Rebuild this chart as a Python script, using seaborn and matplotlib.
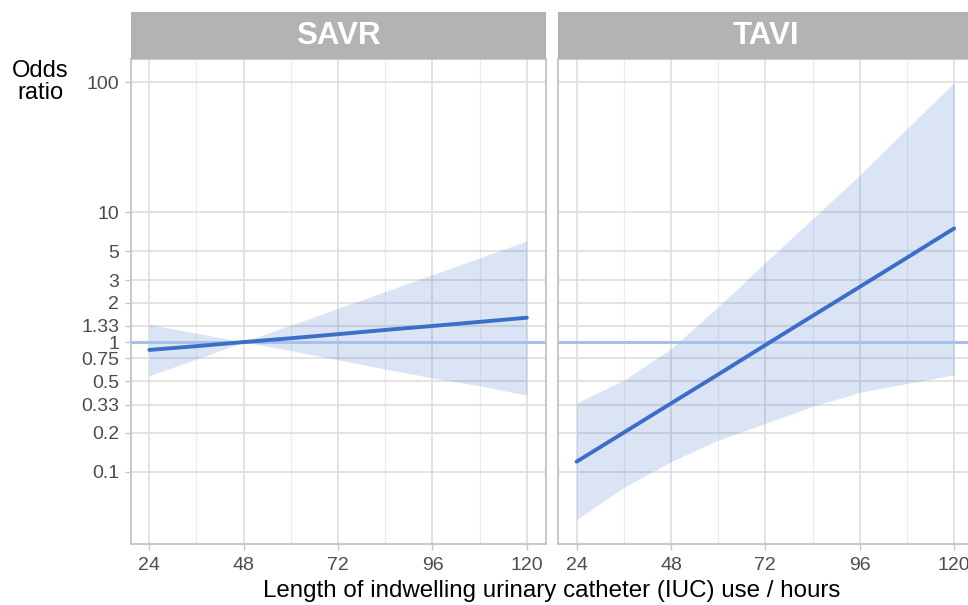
import numpy as np
import pandas as pd
import matplotlib
matplotlib.use("Agg")
import matplotlib.pyplot as plt
from matplotlib.ticker import NullLocator, FixedLocator
import seaborn as sns

# values (odds ratio vs hours of IUC use)
hours = [24, 36, 48, 60, 72, 84, 96, 108, 120]
savr_or = [0.87, 0.93, 1.0, 1.07, 1.15, 1.24, 1.33, 1.43, 1.54]
savr_lo = [0.55, 0.74, 1.0, 0.86, 0.73, 0.62, 0.53, 0.46, 0.39]
savr_hi = [1.37, 1.17, 1.0, 1.35, 1.82, 2.45, 3.3, 4.45, 6.0]
tavi_or = [0.12, 0.201, 0.337, 0.563, 0.948, 1.59, 2.66, 4.46, 7.5]
tavi_lo = [0.043, 0.076, 0.12, 0.176, 0.237, 0.32, 0.41, 0.48, 0.56]
tavi_hi = [0.34, 0.51, 0.89, 1.87, 4.1, 8.9, 19.3, 44.0, 99.0]

panels = ["SAVR", "TAVI"]
y_ticks = [0.1, 0.2, 0.33, 0.5, 0.75, 1, 1.33, 2, 3, 5, 10, 100]
y_labels = ["0.1", "0.2", "0.33", "0.5", "0.75", "1", "1.33", "2", "3", "5", "10", "100"]
x_ticks = [24, 48, 72, 96, 120]
x_minor = [36, 60, 84, 108]

df = pd.DataFrame({
    "hours": hours * 2,
    "odds": savr_or + tavi_or,
    "lo": savr_lo + tavi_lo,
    "hi": savr_hi + tavi_hi,
    "group": ["SAVR"] * len(hours) + ["TAVI"] * len(hours),
})

sns.set_theme(style="white")
plt.rcParams["font.family"] = ["Liberation Sans", "DejaVu Sans"]

line_col = "#3a6ec8"
W, H = 968, 605
fig = plt.figure(figsize=(W / 100, H / 100), dpi=100)

def fx(px):
    return px / W

def fy(py):
    return 1 - py / H

panel_w = 415
panel_top, panel_bot = 59.3, 544.3
lefts = [130.7, 558]

for name, left in zip(panels, lefts):
    ax = fig.add_axes([fx(left), fy(panel_bot), fx(panel_w), (panel_bot - panel_top) / H])
    sub = df[df.group == name]
    ax.set_yscale("log")
    ax.set_axisbelow(True)
    ax.fill_between(sub["hours"], sub["lo"], sub["hi"], color=line_col, alpha=0.18,
                    linewidth=0, zorder=2)
    ax.axhline(1, color="#a6c1ea", linewidth=2.2, zorder=3)
    sns.lineplot(data=sub, x="hours", y="odds", ax=ax, color=line_col, linewidth=2.8,
                 errorbar=None, zorder=4)

    ax.set_xlim(19.27, 124.8)
    ax.set_ylim(10 ** -1.557, 10 ** 2.177)
    ax.xaxis.set_major_locator(FixedLocator(x_ticks))
    ax.xaxis.set_minor_locator(FixedLocator(x_minor))
    ax.set_yticks(y_ticks)
    ax.yaxis.set_minor_locator(NullLocator())
    ax.grid(which="major", color="#dedede", linewidth=1.2)
    ax.grid(which="minor", axis="x", color="#ececec", linewidth=0.9)
    ax.set_xlabel("")
    ax.set_ylabel("")

    ax.tick_params(axis="x", which="major", length=4.3, width=1.0, color="#c4c4c4",
                   pad=4.5, labelsize=14, labelcolor="#4d4d4d", bottom=True)
    ax.tick_params(axis="x", which="minor", length=0)
    if name == "SAVR":
        ax.set_yticklabels(y_labels)
        ax.tick_params(axis="y", length=4.3, width=1.0, color="#c4c4c4", pad=4,
                       labelsize=14, labelcolor="#4d4d4d", left=True)
    else:
        ax.tick_params(axis="y", left=False, labelleft=False)
    for sp in ax.spines.values():
        sp.set_visible(True)
        sp.set_color("#c4c4c4")
        sp.set_linewidth(1.3)

    # facet strip
    st = fig.add_axes([fx(left), fy(panel_top), fx(panel_w), (panel_top - 12) / H])
    st.set_facecolor("#b3b3b3")
    st.set_xticks([])
    st.set_yticks([])
    for sp in st.spines.values():
        sp.set_visible(False)
    st.text(0.5, 0.5, name, transform=st.transAxes, ha="center", va="center",
            color="white", fontsize=22.5, fontweight="bold")

fig.text(fx(40), fy(82), "Odds\nratio", ha="center", va="center", fontsize=17,
         linespacing=1.05, color="black")
fig.text(fx(552), fy(591), "Length of indwelling urinary catheter (IUC) use / hours",
         ha="center", va="center", fontsize=17.4, color="black")

fig.savefig("out.png", dpi=100, facecolor="white")
